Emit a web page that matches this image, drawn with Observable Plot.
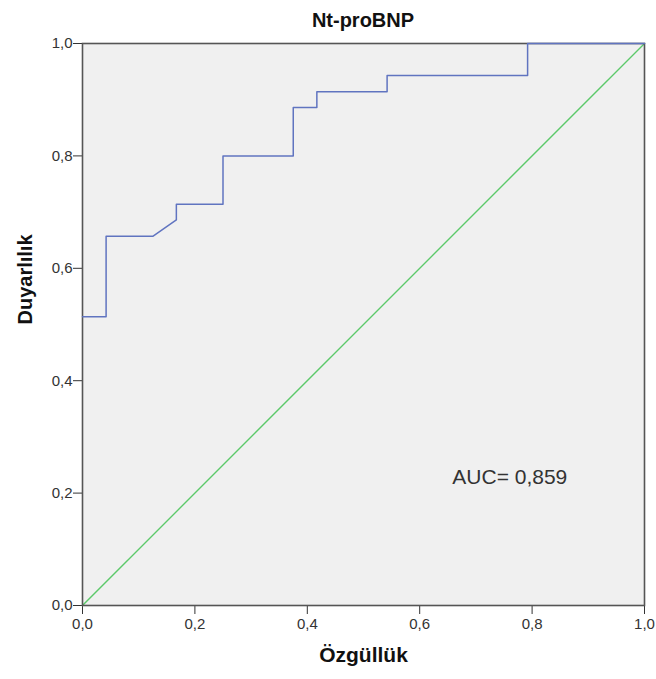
<!DOCTYPE html>
<html>
<head>
<meta charset="utf-8">
<script src="https://cdn.jsdelivr.net/npm/d3@7"></script>
<script src="https://cdn.jsdelivr.net/npm/@observablehq/plot@0.6"></script>
<style>
  body { margin: 0; background: #fff; font-family: "Liberation Sans", Arial, sans-serif; }
  #title { width: 656px; height: 30px; box-sizing: border-box; padding-left: 82px; padding-right: 12px;
           text-align: center; font-weight: bold; font-size: 20px; line-height: 40px; color: #111; }
</style>
</head>
<body>
<div id="title">Nt-proBNP</div>
<div id="chart"></div>
<script>
// ROC curve: 1 - specificity (x) and sensitivity (y)
const fpr = [0, 0.042, 0.042, 0.125, 0.167, 0.167, 0.25, 0.25, 0.375, 0.375, 0.417, 0.417, 0.542, 0.542, 0.792, 0.792, 1.0];
const tpr = [0.514, 0.514, 0.657, 0.657, 0.686, 0.714, 0.714, 0.8, 0.8, 0.886, 0.886, 0.914, 0.914, 0.943, 0.943, 1.0, 1.0];
const refX = [0, 1];
const refY = [0, 1];
const ticks = [0, 0.2, 0.4, 0.6, 0.8, 1.0];
const xLabel = "Özgüllük";
const yLabel = "Duyarlılık";
const aucText = "AUC= 0,859";
const aucPos = {x: 0.658, y: 0.229};

const roc = fpr.map((x, i) => ({x, y: tpr[i]}));
const ref = refX.map((x, i) => ({x, y: refY[i]}));
const fmt = d => d.toFixed(1).replace(".", ",");

const chart = Plot.plot({
  width: 656,
  height: 649,
  marginTop: 13,
  marginBottom: 74,
  marginLeft: 82,
  marginRight: 12,
  style: {fontFamily: "Liberation Sans, Arial, sans-serif", fontSize: "15px", background: "#fff"},
  x: {domain: [0, 1]},
  y: {domain: [0, 1]},
  marks: [
    Plot.frame({fill: "#f0f0f0", stroke: null}),
    Plot.axisX({ticks, tickFormat: fmt, tickSize: 9, tickPadding: 4, fontSize: 15, label: null, stroke: "#333", color: "#333"}),
    Plot.axisY({ticks, tickFormat: fmt, tickSize: 9, tickPadding: 1, fontSize: 15, label: null, stroke: "#333", color: "#333"}),
    Plot.line(ref, {x: "x", y: "y", stroke: "#5cc96a", strokeWidth: 1.4}),
    Plot.frame({stroke: "#555", strokeWidth: 1.6}),
    Plot.line(roc, {x: "x", y: "y", stroke: "#6074c0", strokeWidth: 1.5}),
    Plot.text([aucText], {x: () => aucPos.x, y: () => aucPos.y, textAnchor: "start", fontSize: 21, fill: "#333"}),
    Plot.text([xLabel], {frameAnchor: "bottom", dy: 56, fontSize: 21, fontWeight: "bold", fill: "#111"}),
    Plot.text([yLabel], {frameAnchor: "left", dx: -57, rotate: -90, fontSize: 20, fontWeight: "bold", fill: "#111"})
  ]
});
document.getElementById("chart").appendChild(chart);
</script>
</body>
</html>
